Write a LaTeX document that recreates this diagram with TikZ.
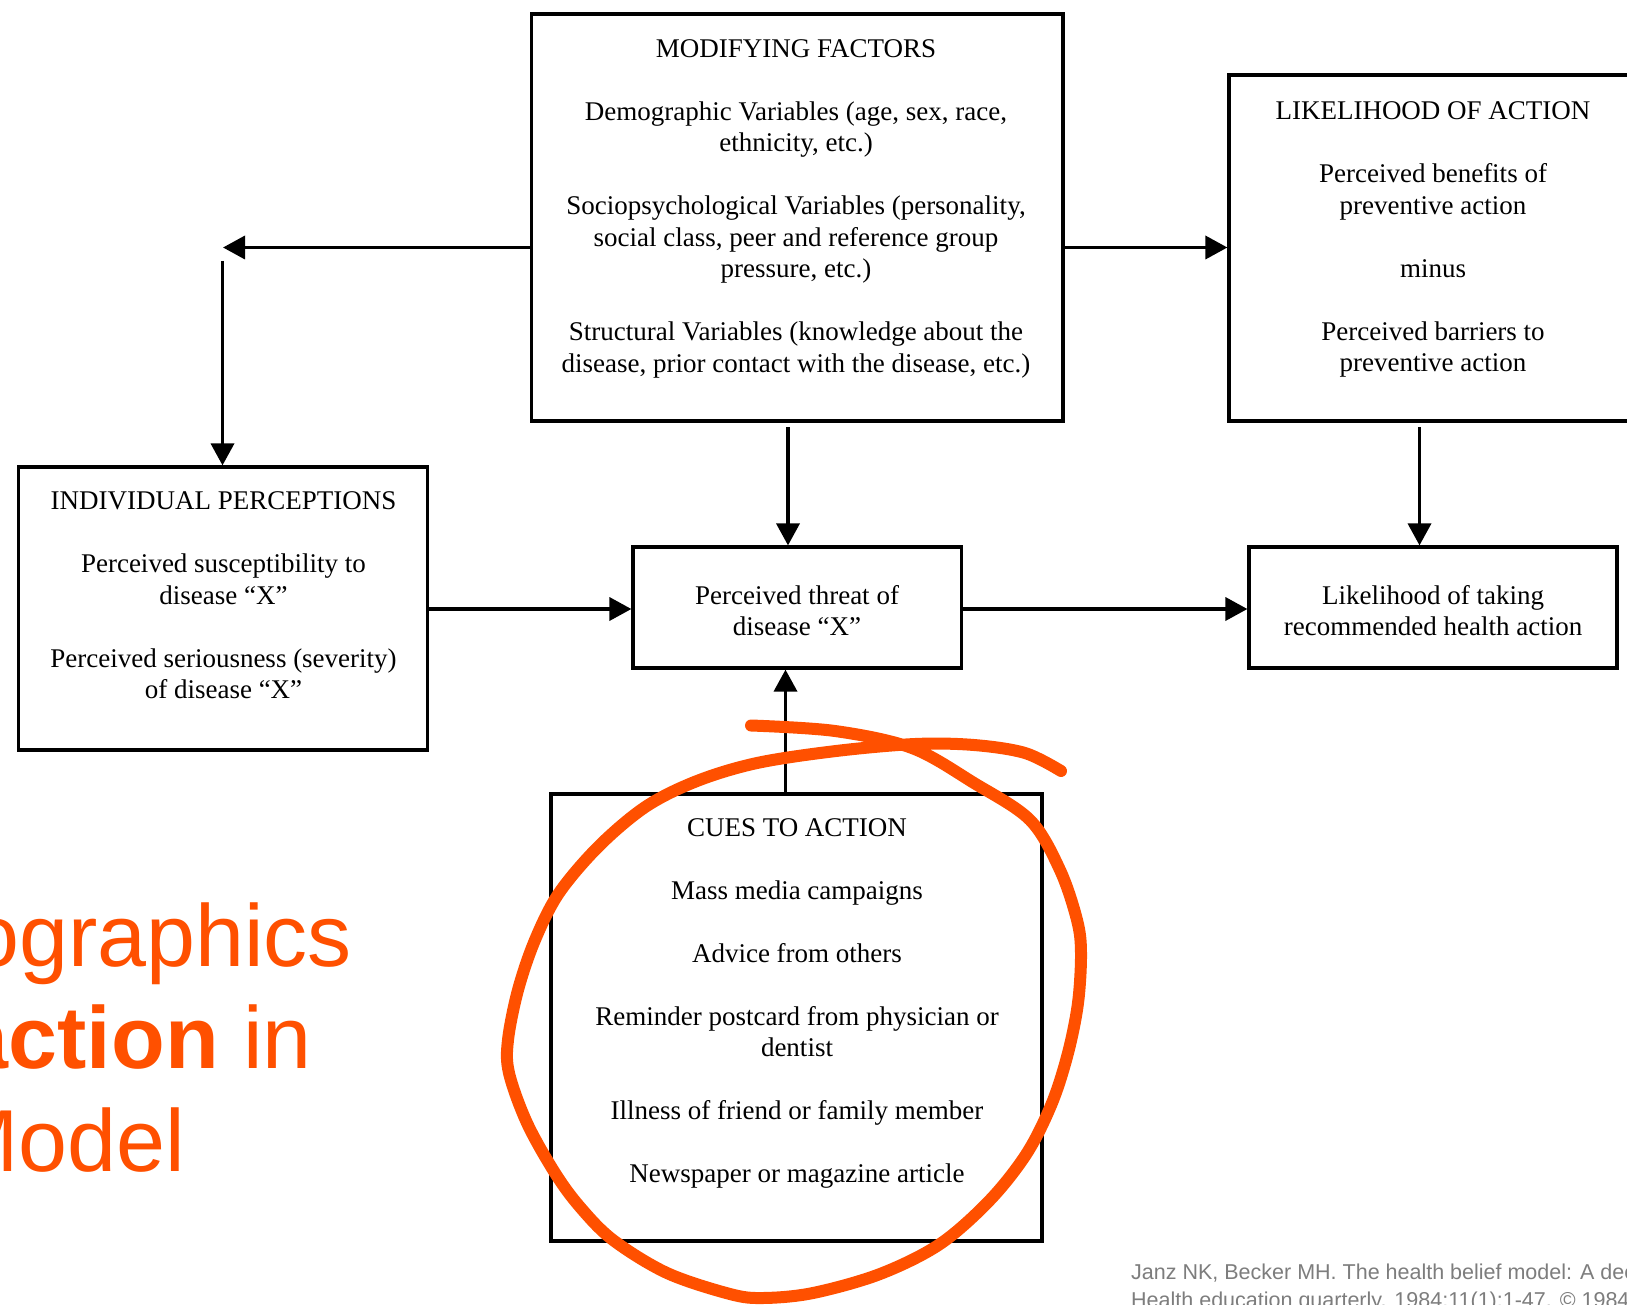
\documentclass[tikz,border=0pt]{standalone}
\usepackage{fontspec}
\setmainfont{Liberation Serif}
\newfontfamily\arialfont{Liberation Sans}
\usetikzlibrary{arrows.meta}
\definecolor{hlorange}{RGB}{255,80,0}
\definecolor{citegray}{RGB}{125,125,125}
\begin{document}
\begin{tikzpicture}[x=1pt,y=-1pt,
  box/.style={draw,line width=3.6pt,inner sep=0pt,outer sep=0pt},
  arr/.style={line width=3.6pt,shorten >=1.6pt,-{Triangle[length=22pt,width=23pt]}},
  txt/.style={font=\fontsize{27}{31.5}\selectfont,align=center,inner sep=0pt,anchor=north},
  big/.style={anchor=base east,inner sep=0pt,font=\arialfont\fontsize{88}{100}\selectfont,text=hlorange},
  cite/.style={anchor=base west,inner sep=0pt,font=\arialfont\fontsize{21.5}{28}\selectfont,text=citegray},
  hl/.style={draw=hlorange,line width=12pt,line cap=round,line join=round}]
\useasboundingbox (0,0) rectangle (1627,1305);
\clip (0,0) rectangle (1627,1305);
\fill[white] (0,0) rectangle (1627,1305);

% boxes
\node[box,minimum width=531.5pt,minimum height=407pt] (mf) at (797.25,217.5) {};
\node[box,minimum width=431pt,minimum height=346pt] (la) at (1444.5,248) {};
\node[box,minimum width=409pt,minimum height=283pt] (ip) at (223,608.5) {};
\node[box,minimum width=328.5pt,minimum height=121pt] (pt) at (797.25,607.5) {};
\node[box,minimum width=368pt,minimum height=121pt] (lt) at (1433,607.5) {};
\node[box,minimum width=491pt,minimum height=447pt] (ca) at (796.5,1017.5) {};

% texts
\node[txt] (mft) at (796,31) {\rule{0pt}{26pt}MODIFYING FACTORS\\[31.5pt]
 Demographic Variables (age, sex, race,\\ ethnicity, etc.)\\[31.5pt]
 Sociopsychological Variables (personality,\\ social class, peer and reference group\\ pressure, etc.)\\[31.5pt]
 Structural Variables (knowledge about the\\ disease, prior contact with the disease, etc.)};
\node[txt] (lat) at (1433,93.5) {\rule{0pt}{26pt}LIKELIHOOD OF ACTION\\[31.5pt]
 Perceived benefits of\\ preventive action\\[31.5pt] minus\\[31.5pt]
 Perceived barriers to\\ preventive action};
\node[txt] (ipt) at (223.5,483.5) {\rule{0pt}{26pt}INDIVIDUAL PERCEPTIONS\\[31.5pt]
 Perceived susceptibility to\\ disease “X”\\[31.5pt]
 Perceived seriousness (severity)\\ of disease “X”};
\node[txt] (ptt) at (797,578) {\rule{0pt}{26pt}Perceived threat of\\ disease “X”};
\node[txt] (ltt) at (1433,578) {\rule{0pt}{26pt}Likelihood of taking\\ recommended health action};
\node[txt] (cat) at (797,810) {\rule{0pt}{26pt}CUES TO ACTION\\[31.5pt]
 Mass media campaigns\\[31.5pt] Advice from others\\[31.5pt]
 Reminder postcard from physician or\\ dentist\\[31.5pt]
 Illness of friend or family member\\[31.5pt]
 Newspaper or magazine article};

% connectors
\coordinate (tl) at (223,247.5);
\coordinate (tlv) at (222.5,261);
\coordinate (mfd) at (788,427);
\coordinate (lad) at (1419.5,427);
\coordinate (midy) at (0,609);
\coordinate (cau) at (785.5,0);
\draw[arr,shorten >=0pt] (mf.west |- tl) -- (tl);
\draw[arr] (tlv) -- (tlv |- ip.north);
\draw[arr] (mf.east |- tl) -- (la.west |- tl);
\draw[arr] (mfd) -- (mfd |- pt.north);
\draw[arr] (lad) -- (lad |- lt.north);
\draw[arr] (ip.east |- midy) -- (pt.west |- midy);
\draw[arr] (pt.east |- midy) -- (lt.west |- midy);
\draw[arr] (cau |- ca.north) -- (cau |- pt.south);

% left title fragment
\node[big] (t1) at (352,966) {ographics};
\node[big] (t2) at (312,1068) {\textbf{action} in};
\node[big] (t3) at (185,1171) {Model};

% citation
\node[cite] (c1) at (1131,1279.5) {Janz NK, Becker MH. The health belief model: A dec};
\node[cite] (c2) at (1131,1307.5) {Health education quarterly. 1984;11(1):1-47. © 1984};

% hand-drawn highlight
\draw[hl] plot[smooth,tension=0.55] coordinates {(751,725.5) (835,731) (912,748) (974,783) (1030,820) (1060,870) (1077,920) (1081,953) (1078,1003) (1068,1053) (1052,1103) (1027,1153) (990,1200) (940,1244) (880,1274) (813,1293) (763,1298) (730,1294) (667,1273) (613,1240) (580,1207) (555,1173) (527,1123) (509,1073) (508,1040) (518,990) (535,940) (559,893) (599,846) (646,806.5) (697,781) (757,763) (836,751) (915,744) (974,745) (1025,753) (1061,771)};
\end{tikzpicture}
\end{document}
